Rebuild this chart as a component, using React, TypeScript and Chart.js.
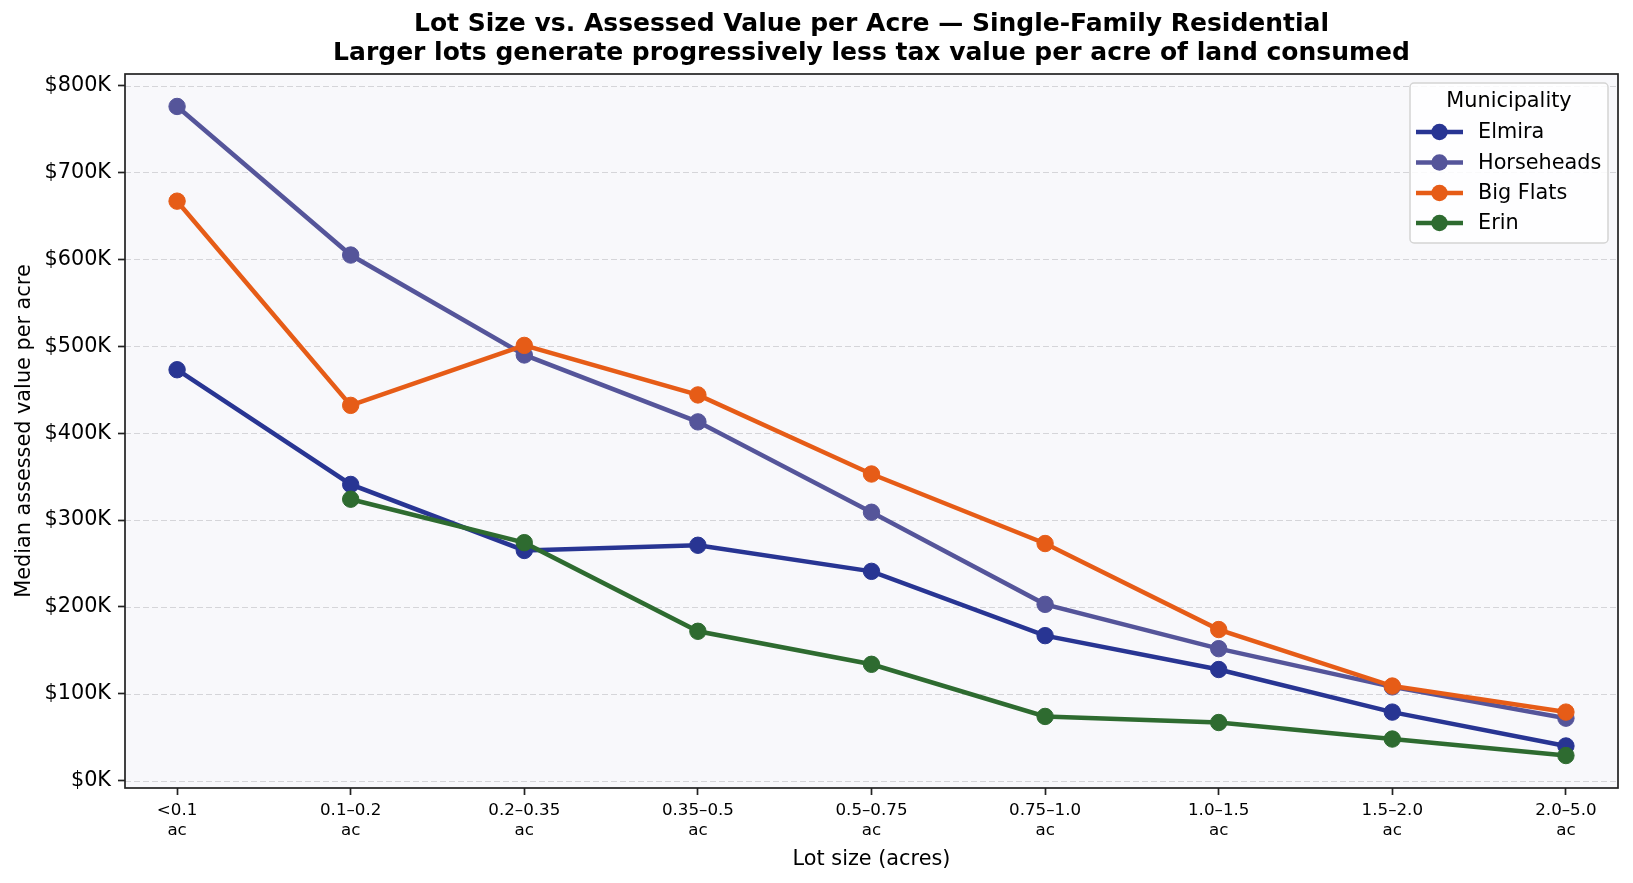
import { useEffect, useRef } from 'react';
import { Chart, registerables } from 'chart.js';

Chart.register(...registerables);

const categories = ['<0.1', '0.1–0.2', '0.2–0.35', '0.35–0.5', '0.5–0.75', '0.75–1.0', '1.0–1.5', '1.5–2.0', '2.0–5.0'];
const categorySuffix = 'ac';
const yTicks = [0, 100, 200, 300, 400, 500, 600, 700, 800];

// Median assessed value per acre, in $K
const elmira = [473, 341, 265, 271, 241, 167, 128, 79, 40];
const horseheads = [776, 605, 490, 413, 309, 203, 152, 108, 72];
const bigFlats = [667, 432, 501, 444, 353, 273, 174, 109, 79];
const erin: (number | null)[] = [null, 324, 274, 172, 134, 74, 67, 48, 29];

const seriesNames = ['Elmira', 'Horseheads', 'Big Flats', 'Erin'];
const seriesColors = ['#283593', '#55559a', '#e65c17', '#2e6b30'];

const TITLE1 = 'Lot Size vs. Assessed Value per Acre — Single-Family Residential';
const TITLE2 = 'Larger lots generate progressively less tax value per acre of land consumed';
const X_LABEL = 'Lot size (acres)';
const Y_LABEL = 'Median assessed value per acre';
const LEGEND_TITLE = 'Municipality';

const FONT = "'DejaVu Sans', sans-serif";

export default function App() {
  const ref = useRef<HTMLCanvasElement | null>(null);

  useEffect(() => {
    document.body.style.margin = '0';
    const canvas = ref.current!;
    const allSeries = [elmira, horseheads, bigFlats, erin];
    const datasets = allSeries.map((vals, si) => ({
      label: seriesNames[si],
      data: vals.map((v, i) => ({ x: i, y: v })),
      borderColor: seriesColors[si],
      backgroundColor: seriesColors[si],
      pointBackgroundColor: seriesColors[si],
      pointBorderColor: seriesColors[si],
      borderWidth: 4.5,
      pointRadius: 8.2,
      pointBorderWidth: 1,
      pointHoverRadius: 8.2,
      tension: 0,
      order: 4 - si,
    }));

    const decor = {
      id: 'decor',
      beforeDraw(chart: any) {
        const { ctx, chartArea: a } = chart;
        ctx.save();
        ctx.fillStyle = '#ffffff';
        ctx.fillRect(0, 0, chart.width, chart.height);
        ctx.fillStyle = '#f8f8fb';
        ctx.fillRect(a.left, a.top, a.right - a.left, a.bottom - a.top);
        ctx.restore();
      },
      beforeDatasetsDraw(chart: any) {
        const { ctx, chartArea: a, scales } = chart;
        const ys = scales.y;
        ctx.save();
        ctx.strokeStyle = 'rgba(190,190,195,0.6)';
        ctx.lineWidth = 1.1;
        ctx.setLineDash([6, 3]);
        ys.ticks.forEach((t: any) => {
          const py = Math.round(ys.getPixelForValue(t.value)) + 0.5;
          ctx.beginPath();
          ctx.moveTo(a.left, py);
          ctx.lineTo(a.right, py);
          ctx.stroke();
        });
        ctx.restore();
      },
      afterDraw(chart: any) {
        const { ctx, chartArea: a } = chart;
        ctx.save();
        ctx.strokeStyle = '#222222';
        ctx.lineWidth = 1.7;
        ctx.strokeRect(a.left, a.top, a.right - a.left, a.bottom - a.top);
        const cx = (a.left + a.right) / 2;
        ctx.fillStyle = '#000000';
        ctx.textAlign = 'center';
        ctx.textBaseline = 'middle';
        ctx.font = `bold 25px ${FONT}`;
        ctx.fillText(TITLE1, cx, 24);
        ctx.fillText(TITLE2, cx, 53);
        ctx.font = `20.8px ${FONT}`;
        ctx.fillText(X_LABEL, cx, 860);
        ctx.save();
        ctx.translate(25, (a.top + a.bottom) / 2);
        ctx.rotate(-Math.PI / 2);
        ctx.fillText(Y_LABEL, 0, 0);
        ctx.restore();
        const lx = 1410, ly = 83, lw = 198, lh = 160;
        ctx.beginPath();
        const r = 4;
        ctx.moveTo(lx + r, ly);
        ctx.lineTo(lx + lw - r, ly);
        ctx.arcTo(lx + lw, ly, lx + lw, ly + r, r);
        ctx.lineTo(lx + lw, ly + lh - r);
        ctx.arcTo(lx + lw, ly + lh, lx + lw - r, ly + lh, r);
        ctx.lineTo(lx + r, ly + lh);
        ctx.arcTo(lx, ly + lh, lx, ly + lh - r, r);
        ctx.lineTo(lx, ly + r);
        ctx.arcTo(lx, ly, lx + r, ly, r);
        ctx.closePath();
        ctx.fillStyle = 'rgba(255,255,255,0.85)';
        ctx.fill();
        ctx.strokeStyle = '#d4d4d4';
        ctx.lineWidth = 1.5;
        ctx.stroke();
        ctx.fillStyle = '#000000';
        ctx.font = `20.8px ${FONT}`;
        ctx.textAlign = 'center';
        ctx.fillText(LEGEND_TITLE, lx + lw / 2, 102);
        const rowY = [132, 162.5, 193, 223];
        seriesNames.forEach((name, i) => {
          const y = rowY[i];
          ctx.strokeStyle = seriesColors[i];
          ctx.lineWidth = 4.5;
          ctx.setLineDash([]);
          ctx.beginPath();
          ctx.moveTo(1416, y);
          ctx.lineTo(1463, y);
          ctx.stroke();
          ctx.fillStyle = seriesColors[i];
          ctx.beginPath();
          ctx.arc(1439.5, y, 8.2, 0, Math.PI * 2);
          ctx.fill();
          ctx.fillStyle = '#000000';
          ctx.textAlign = 'left';
          ctx.fillText(name, 1478, y + 1);
        });
        ctx.restore();
      },
    };

    const chart = new Chart(canvas, {
      type: 'line',
      data: { datasets: datasets as any },
      options: {
        animation: false,
        responsive: false,
        maintainAspectRatio: false,
        devicePixelRatio: 1,
        layout: { padding: { left: 0, top: 74, right: 15, bottom: 0 } },
        plugins: {
          legend: { display: false },
          title: { display: false },
          tooltip: { enabled: false },
        },
        scales: {
          x: {
            type: 'linear',
            min: -0.3,
            max: 8.3,
            afterFit(scale: any) {
              scale.height = 95;
            },
            afterBuildTicks(scale: any) {
              scale.ticks = categories.map((_, i) => ({ value: i }));
            },
            ticks: {
              autoSkip: false,
              maxRotation: 0,
              padding: 6,
              color: '#000000',
              font: { family: FONT, size: 16.7, lineHeight: 1.2 },
              callback: (v: any) => [categories[Number(v)], categorySuffix],
            },
            grid: {
              drawOnChartArea: false,
              drawTicks: true,
              tickLength: 7,
              tickColor: '#222222',
              tickWidth: 1.7,
            },
            border: { display: false },
          },
          y: {
            type: 'linear',
            min: -8.35,
            max: 813.35,
            afterFit(scale: any) {
              scale.width = 125;
            },
            afterBuildTicks(scale: any) {
              scale.ticks = yTicks.map((v) => ({ value: v }));
            },
            ticks: {
              padding: 7,
              color: '#000000',
              font: { family: FONT, size: 20.8 },
              callback: (v: any) => `$${v}K`,
            },
            grid: {
              drawOnChartArea: false,
              drawTicks: true,
              tickLength: 7,
              tickColor: '#222222',
              tickWidth: 1.7,
            },
            border: { display: false },
          },
        },
      },
      plugins: [decor],
    });

    return () => chart.destroy();
  }, []);

  return <canvas ref={ref} width={1633} height={883} style={{ display: 'block', width: 1633, height: 883 }} />;
}
